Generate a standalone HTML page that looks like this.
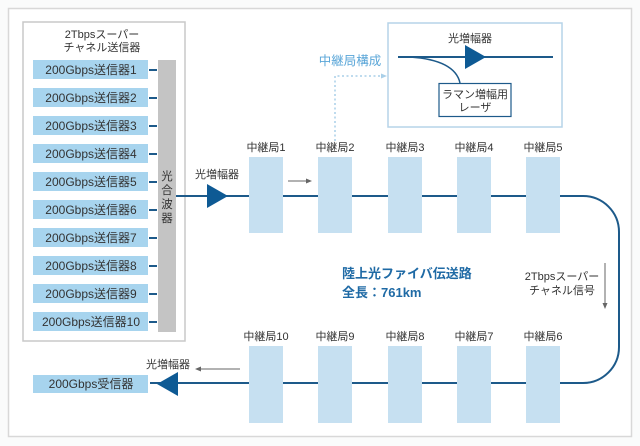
<!DOCTYPE html>
<html><head><meta charset="utf-8"><style>
body{margin:0;background:#fff;}
svg{display:block;font-family:"Liberation Sans","Noto Sans CJK JP",sans-serif;}
</style></head><body>
<svg width="640" height="446" viewBox="0 0 640 446" xmlns="http://www.w3.org/2000/svg">
<rect x="0" y="0" width="640" height="446" fill="#fafbfb"/>
<rect x="8.5" y="8.5" width="623" height="428" fill="#fff" stroke="#d8d8d8" stroke-width="1.5"/>
<!-- left box -->
<rect x="23" y="22" width="162" height="319" fill="#fff" stroke="#c8c8c8" stroke-width="1.5"/>
<text x="102" y="38" font-size="11" text-anchor="middle" fill="#333">2Tbpsスーパー</text>
<text x="102" y="51" font-size="11" text-anchor="middle" fill="#333">チャネル送信器</text>
<rect x="158" y="60" width="18" height="272" fill="#c4c4c4"/>
<g font-size="11.5" text-anchor="middle" fill="#333">
<text x="167" y="180">光</text><text x="167" y="194">合</text><text x="167" y="208">波</text><text x="167" y="222">器</text>
</g>
<g fill="#a7d4ee">
<rect x="33" y="60" width="115" height="19"/><rect x="33" y="88" width="115" height="19"/>
<rect x="33" y="116" width="115" height="19"/><rect x="33" y="144" width="115" height="19"/>
<rect x="33" y="172" width="115" height="19"/><rect x="33" y="200" width="115" height="19"/>
<rect x="33" y="228" width="115" height="19"/><rect x="33" y="256" width="115" height="19"/>
<rect x="33" y="284" width="115" height="19"/><rect x="33" y="312" width="115" height="19"/>
<rect x="33" y="375" width="115" height="18"/>
</g>
<g stroke="#1d5a8a" stroke-width="2">
<line x1="149" y1="70" x2="157" y2="70"/><line x1="149" y1="98" x2="157" y2="98"/>
<line x1="149" y1="126" x2="157" y2="126"/><line x1="149" y1="154" x2="157" y2="154"/>
<line x1="149" y1="182" x2="157" y2="182"/><line x1="149" y1="210" x2="157" y2="210"/>
<line x1="149" y1="238" x2="157" y2="238"/><line x1="149" y1="266" x2="157" y2="266"/>
<line x1="149" y1="294" x2="157" y2="294"/><line x1="149" y1="322" x2="157" y2="322"/>
</g>
<g font-size="12" text-anchor="middle" fill="#333">
<text x="91" y="74">200Gbps送信器1</text><text x="91" y="102">200Gbps送信器2</text>
<text x="91" y="130">200Gbps送信器3</text><text x="91" y="158">200Gbps送信器4</text>
<text x="91" y="186">200Gbps送信器5</text><text x="91" y="214">200Gbps送信器6</text>
<text x="91" y="242">200Gbps送信器7</text><text x="91" y="270">200Gbps送信器8</text>
<text x="91" y="298">200Gbps送信器9</text><text x="91" y="326">200Gbps送信器10</text>
<text x="91" y="388">200Gbps受信器</text>
</g>
<!-- main loop line -->
<path d="M176 196 H583 A36 36 0 0 1 619 232 V347 A36 36 0 0 1 583 383 H150" fill="none" stroke="#1d5a8a" stroke-width="2"/>
<polygon points="207,184 228,196 207,208" fill="#0e5a94"/>
<polygon points="157,384 178,372 178,396" fill="#0e5a94"/>
<text x="217" y="178" font-size="11" text-anchor="middle" fill="#333">光増幅器</text>
<text x="168" y="368" font-size="11" text-anchor="middle" fill="#333">光増幅器</text>
<!-- small arrows -->
<line x1="288" y1="181" x2="308" y2="181" stroke="#666" stroke-width="1"/>
<polygon points="312,181 306,178.5 306,183.5" fill="#666"/>
<line x1="240" y1="369" x2="200" y2="369" stroke="#666" stroke-width="1"/>
<polygon points="195,369 201,366.5 201,371.5" fill="#666"/>
<!-- repeaters -->
<g fill="#c6e0f1">
<rect x="249" y="157" width="34" height="76"/><rect x="318" y="157" width="34" height="76"/>
<rect x="388" y="157" width="34" height="76"/><rect x="457" y="157" width="34" height="76"/>
<rect x="526" y="157" width="34" height="76"/>
<rect x="249" y="346" width="34" height="77"/><rect x="318" y="346" width="34" height="77"/>
<rect x="388" y="346" width="34" height="77"/><rect x="457" y="346" width="34" height="77"/>
<rect x="526" y="346" width="34" height="77"/>
</g>
<g font-size="11" text-anchor="middle" fill="#333">
<text x="266" y="151">中継局1</text><text x="335" y="151">中継局2</text>
<text x="405" y="151">中継局3</text><text x="474" y="151">中継局4</text>
<text x="543" y="151">中継局5</text>
<text x="266" y="340">中継局10</text><text x="335" y="340">中継局9</text>
<text x="405" y="340">中継局8</text><text x="474" y="340">中継局7</text>
<text x="543" y="340">中継局6</text>
</g>
<!-- center text -->
<text x="342" y="278" font-size="13" font-weight="bold" fill="#1f6aa5">陸上光ファイバ伝送路</text>
<text x="342" y="297" font-size="13" font-weight="bold" fill="#1f6aa5">全長：761km</text>
<text x="562" y="280" font-size="11" text-anchor="middle" fill="#333">2Tbpsスーパー</text>
<text x="562" y="294" font-size="11" text-anchor="middle" fill="#333">チャネル信号</text>
<line x1="605" y1="263" x2="605" y2="304" stroke="#666" stroke-width="1"/>
<polygon points="605,309 602.5,303 607.5,303" fill="#666"/>
<!-- inset -->
<text x="350" y="65" font-size="12.5" text-anchor="middle" fill="#5aa6d8">中継局構成</text>
<path d="M335 141 V76 H381" fill="none" stroke="#a9cfe8" stroke-width="1.5" stroke-dasharray="2,2.5"/>
<polygon points="387,76 381,73.5 381,78.5" fill="#a9cfe8"/>
<rect x="388" y="23" width="174" height="104" fill="#fff" stroke="#b6d4e8" stroke-width="1.5"/>
<text x="470" y="42" font-size="11" text-anchor="middle" fill="#333">光増幅器</text>
<line x1="398" y1="57" x2="553" y2="57" stroke="#1d5a8a" stroke-width="2"/>
<polygon points="465,45 486,57 465,69" fill="#0e5a94"/>
<path d="M410 57 Q455 60 460 83" fill="none" stroke="#1d5a8a" stroke-width="1.5"/>
<rect x="439" y="83.5" width="72" height="33" fill="#fff" stroke="#1d5a8a" stroke-width="1.2"/>
<text x="475" y="98" font-size="11" text-anchor="middle" fill="#333">ラマン増幅用</text>
<text x="475" y="111" font-size="11" text-anchor="middle" fill="#333">レーザ</text>
</svg>
</body></html>
